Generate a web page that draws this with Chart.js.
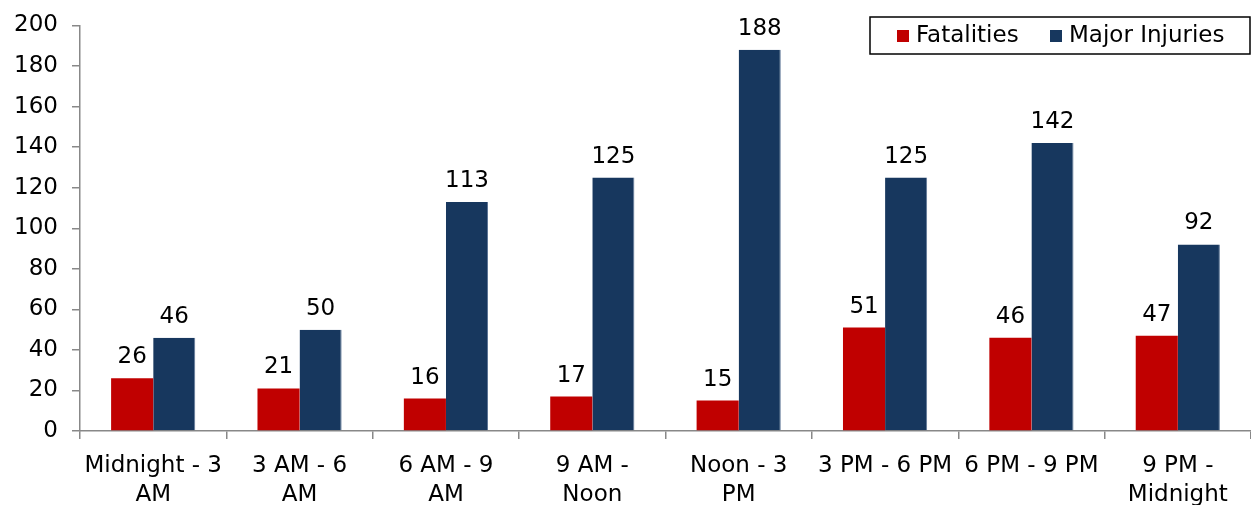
<!DOCTYPE html>
<html>
<head>
<meta charset="utf-8">
<script src="https://cdn.jsdelivr.net/npm/chart.js@4/dist/chart.umd.min.js"></script>
<style>
  html, body { margin: 0; padding: 0; background: #ffffff; }
  #wrap { width: 1251px; height: 505px; position: relative; }
</style>
</head>
<body>
<div id="wrap"><canvas id="chart"></canvas></div>
<script>
// Time-of-day buckets (wrapped onto two lines where needed)
const categories = [
  ["Midnight - 3", "AM"],
  ["3 AM - 6", "AM"],
  ["6 AM - 9", "AM"],
  ["9 AM -", "Noon"],
  ["Noon - 3", "PM"],
  "3 PM - 6 PM",
  "6 PM - 9 PM",
  ["9 PM -", "Midnight"]
];
const fatalities    = [26, 21, 16, 17, 15, 51, 46, 47];
const majorInjuries = [46, 50, 113, 125, 188, 125, 142, 92];
const yTicks = [0, 20, 40, 60, 80, 100, 120, 140, 160, 180, 200];

const FONT = "'DejaVu Sans', Verdana, sans-serif";
const FSIZE = 23;
const AXIS = '#888888';

// Value labels above each bar
const valueLabels = {
  id: 'valueLabels',
  afterDatasetsDraw(chart) {
    const ctx = chart.ctx;
    ctx.save();
    ctx.font = FSIZE + 'px ' + FONT;
    ctx.fillStyle = '#000000';
    ctx.textAlign = 'center';
    ctx.textBaseline = 'alphabetic';
    chart.data.datasets.forEach((ds, i) => {
      chart.getDatasetMeta(i).data.forEach((bar, j) => {
        ctx.fillText(String(ds.data[j]), bar.x, bar.y - 15);
      });
    });
    ctx.restore();
  }
};

// Boxed legend in the top-right corner
const legendItemX = [897, 1050];
const boxedLegend = {
  id: 'boxedLegend',
  afterDraw(chart) {
    const ctx = chart.ctx;
    const left = 870, top = 17, right = 1250, bottom = 54;
    ctx.save();
    ctx.strokeStyle = '#000000';
    ctx.lineWidth = 1.5;
    ctx.fillStyle = '#ffffff';
    ctx.fillRect(left, top, right - left, bottom - top);
    ctx.strokeRect(left, top, right - left, bottom - top);
    ctx.font = FSIZE + 'px ' + FONT;
    ctx.textBaseline = 'middle';
    ctx.textAlign = 'left';
    const cy = 36;
    chart.data.datasets.forEach((ds, i) => {
      const x = legendItemX[i];
      ctx.fillStyle = ds.backgroundColor;
      ctx.fillRect(x, cy - 6, 12, 12);
      ctx.fillStyle = '#000000';
      ctx.fillText(ds.label, x + 19, cy);
    });
    ctx.restore();
  }
};

new Chart(document.getElementById('chart'), {
  type: 'bar',
  data: {
    labels: categories,
    datasets: [
      { label: 'Fatalities', data: fatalities, backgroundColor: '#C00000',
        barPercentage: 1, categoryPercentage: 0.575 },
      { label: 'Major Injuries', data: majorInjuries, backgroundColor: '#17375E',
        borderColor: '#5f7797', borderWidth: { top: 0, left: 0, bottom: 0, right: 1 },
        barPercentage: 1, categoryPercentage: 0.575 }
    ]
  },
  options: {
    responsive: true,
    maintainAspectRatio: false,
    animation: false,
    layout: { padding: { top: 25, right: 0, left: 0, bottom: 0 } },
    plugins: {
      legend: { display: false },
      tooltip: { enabled: false }
    },
    scales: {
      x: {
        grid: { display: true, drawOnChartArea: false, drawTicks: true, tickLength: 8, color: AXIS, lineWidth: 1.5 },
        border: { display: true, color: AXIS, width: 1.5 },
        ticks: { color: '#000000', maxRotation: 0, autoSkip: false, padding: 12,
                 font: { family: FONT, size: FSIZE, lineHeight: 1.28 } },
        afterFit(scale) { scale.height = 74; }
      },
      y: {
        min: 0, max: 200,
        afterBuildTicks(scale) { scale.ticks = yTicks.map(v => ({ value: v })); },
        grid: { display: true, drawOnChartArea: false, drawTicks: true, tickLength: 8, color: AXIS, lineWidth: 1.5 },
        border: { display: true, color: AXIS, width: 1.5 },
        ticks: { color: '#000000', padding: 14, font: { family: FONT, size: FSIZE, lineHeight: 1.0 } },
        afterFit(scale) { scale.width = 80; }
      }
    }
  },
  plugins: [valueLabels, boxedLegend]
});
</script>
</body>
</html>
